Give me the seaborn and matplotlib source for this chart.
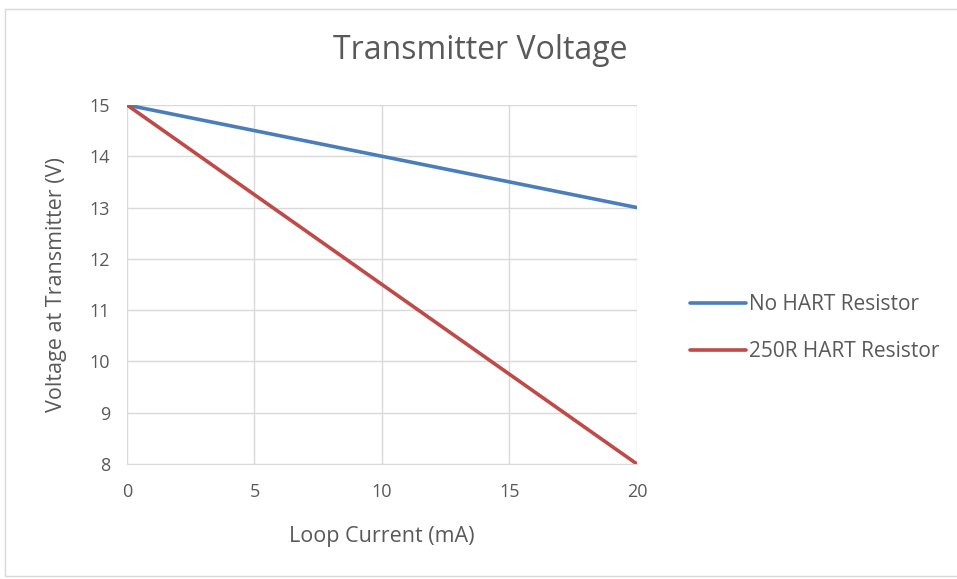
import numpy as np
import pandas as pd
import matplotlib
matplotlib.use("Agg")
import matplotlib.pyplot as plt
from matplotlib.patches import Rectangle
import seaborn as sns

# values
loop_current = [0, 5, 10, 15, 20]
no_hart = [15.0, 14.5, 14.0, 13.5, 13.0]
hart_250r = [15.0, 13.25, 11.5, 9.75, 8.0]
series_names = ["No HART Resistor", "250R HART Resistor"]

df = pd.DataFrame({
    "current": loop_current * 2,
    "voltage": no_hart + hart_250r,
    "series": [series_names[0]] * 5 + [series_names[1]] * 5,
})

sns.set_style("white")
plt.rcParams['font.family'] = ['Open Sans', 'DejaVu Sans']
grey = "#595959"

fig = plt.figure(figsize=(9.57, 5.79), dpi=100)
ax = fig.add_axes([0.1327, 0.1986, 0.5329, 0.6201])

sns.lineplot(data=df, x="current", y="voltage", hue="series",
             palette=["#4A7EBB", "#BE4B48"], linewidth=2.6, ax=ax)

ax.set_xlim(0, 20)
ax.set_ylim(8, 15)
ax.set_xticks(range(0, 21, 5))
ax.set_yticks(range(8, 16))
ax.grid(True, color="#D9D9D9", linewidth=1)
ax.set_axisbelow(True)
for s in ["top", "right", "left"]:
    ax.spines[s].set_visible(False)
ax.spines["bottom"].set_color("#D9D9D9")
ax.tick_params(colors=grey, labelsize=13, length=0)
ax.tick_params(axis="x", pad=14)
ax.tick_params(axis="y", pad=12)

ax.set_xlabel("Loop Current (mA)", fontsize=15.5, color=grey, labelpad=18)
ax.set_ylabel("Voltage at Transmitter (V)", fontsize=15.5, color=grey, labelpad=16)
fig.text(0.502, 0.912, "Transmitter Voltage", fontsize=23, color=grey,
         ha="center", va="center")

leg = ax.legend(loc="center left", bbox_to_anchor=(1.104, 0.379), frameon=False,
                fontsize=15, handlelength=2.7, handletextpad=0.13, labelspacing=1.25,
                borderpad=0, borderaxespad=0)
for t in leg.get_texts():
    t.set_color(grey)

fig.patches.append(Rectangle((0.005, 0.005), 1.2, 0.98, transform=fig.transFigure,
                             fill=False, edgecolor="#D9D9D9", linewidth=1))

fig.savefig("out.png", dpi=100)
